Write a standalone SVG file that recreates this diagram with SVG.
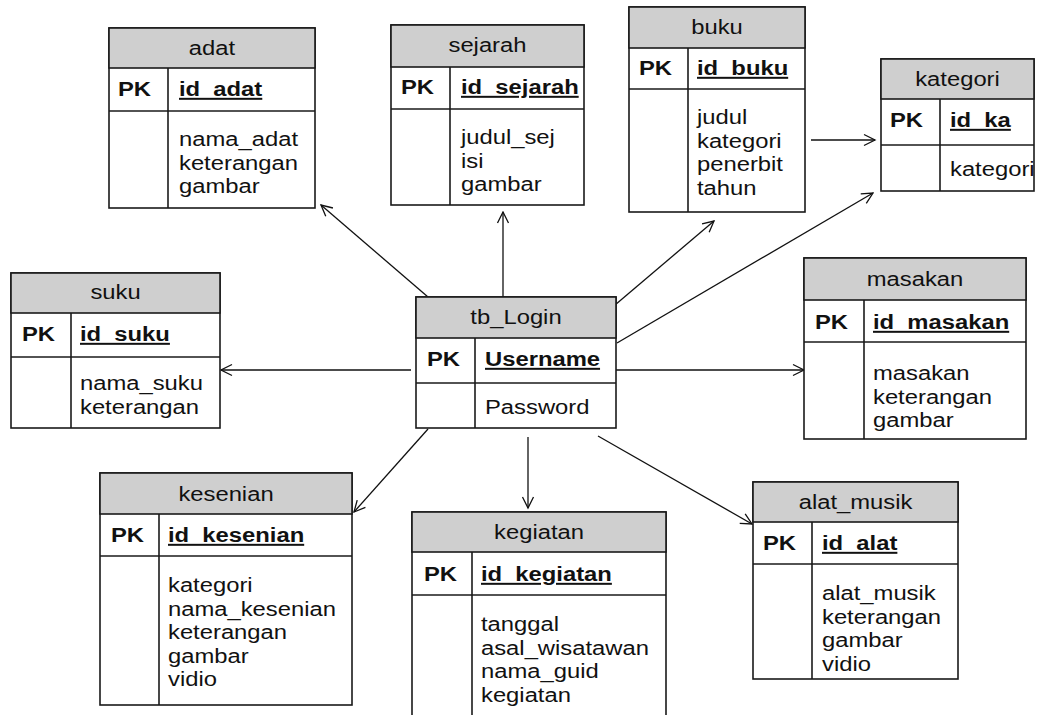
<svg xmlns="http://www.w3.org/2000/svg" width="1048" height="715" viewBox="0 0 1048 715">
<style>
.bg{fill:#ffffff}
.hd{fill:#cfcfcf;stroke:#1a1a1a;stroke-width:1.6}
.bd{fill:#ffffff;stroke:#1a1a1a;stroke-width:1.6}
.ln{stroke:#1a1a1a;stroke-width:1.6;fill:none}
text{font-family:"Liberation Sans",Arial,sans-serif;font-size:20px;fill:#111}
.t{text-anchor:middle}
.pk{font-weight:bold}
.key{font-weight:bold;text-decoration:underline}
.cn{stroke:#111;stroke-width:1.3;fill:none;marker-end:url(#arr)}
</style>
<defs>
<marker id="arr" markerUnits="userSpaceOnUse" markerWidth="14" markerHeight="14" viewBox="-1 -7 13 14" refX="11" refY="0" orient="auto">
<path d="M0,-5.5 L11,0 L0,5.5" fill="none" stroke="#111" stroke-width="1.3"/>
</marker>
</defs>
<rect class="bg" x="0" y="0" width="1048" height="715"/>

<g id="connectors">
<line class="cn" x1="428" y1="297" x2="321" y2="205"/>
<line class="cn" x1="503" y1="297" x2="503" y2="212"/>
<line class="cn" x1="615" y1="305" x2="714" y2="221"/>
<line class="cn" x1="617" y1="343" x2="873" y2="193"/>
<line class="cn" x1="811" y1="140" x2="875" y2="140"/>
<line class="cn" x1="411" y1="370" x2="221" y2="370"/>
<line class="cn" x1="616" y1="370" x2="804" y2="370"/>
<line class="cn" x1="428" y1="429" x2="354" y2="512"/>
<line class="cn" x1="528" y1="437" x2="528" y2="508"/>
<line class="cn" x1="598" y1="436" x2="752" y2="524"/>
</g>

<g id="adat">
<rect class="bd" x="109" y="28" width="206" height="180"/>
<rect class="hd" x="109" y="28" width="206" height="40"/>
<line class="ln" x1="109" y1="111" x2="315" y2="111"/>
<line class="ln" x1="168" y1="68" x2="168" y2="208"/>
<text class="t" transform="translate(212,55) scale(1.19,1)">adat</text>
<text class="pk" transform="translate(118,96) scale(1.19,1)">PK</text>
<text class="key" transform="translate(179,96) scale(1.19,1)">id_adat</text>
<text transform="translate(179,146) scale(1.19,1)">nama_adat</text>
<text transform="translate(179,169.5) scale(1.19,1)">keterangan</text>
<text transform="translate(179,193) scale(1.19,1)">gambar</text>
</g>

<g id="sejarah">
<rect class="bd" x="391" y="25" width="193" height="180"/>
<rect class="hd" x="391" y="25" width="193" height="42"/>
<line class="ln" x1="391" y1="109" x2="584" y2="109"/>
<line class="ln" x1="450" y1="67" x2="450" y2="205"/>
<text class="t" transform="translate(487.5,52) scale(1.19,1)">sejarah</text>
<text class="pk" transform="translate(401,94) scale(1.19,1)">PK</text>
<text class="key" transform="translate(461,94) scale(1.19,1)">id_sejarah</text>
<text transform="translate(461,144) scale(1.19,1)">judul_sej</text>
<text transform="translate(461,167.5) scale(1.19,1)">isi</text>
<text transform="translate(461,191) scale(1.19,1)">gambar</text>
</g>

<g id="buku">
<rect class="bd" x="629" y="7" width="176" height="205"/>
<rect class="hd" x="629" y="7" width="176" height="41"/>
<line class="ln" x1="629" y1="89" x2="805" y2="89"/>
<line class="ln" x1="688" y1="48" x2="688" y2="212"/>
<text class="t" transform="translate(717,34) scale(1.19,1)">buku</text>
<text class="pk" transform="translate(639,75) scale(1.19,1)">PK</text>
<text class="key" transform="translate(697,75) scale(1.19,1)">id_buku</text>
<text transform="translate(697,124) scale(1.19,1)">judul</text>
<text transform="translate(697,147.5) scale(1.19,1)">kategori</text>
<text transform="translate(697,171) scale(1.19,1)">penerbit</text>
<text transform="translate(697,194.5) scale(1.19,1)">tahun</text>
</g>

<g id="kategori">
<rect class="bd" x="881" y="59" width="153" height="132"/>
<rect class="hd" x="881" y="59" width="153" height="40"/>
<line class="ln" x1="881" y1="145" x2="1034" y2="145"/>
<line class="ln" x1="940" y1="99" x2="940" y2="191"/>
<text class="t" transform="translate(957.5,86) scale(1.19,1)">kategori</text>
<text class="pk" transform="translate(890,127) scale(1.19,1)">PK</text>
<text class="key" transform="translate(950,127) scale(1.19,1)">id_ka</text>
<text transform="translate(950,176) scale(1.19,1)">kategori</text>
</g>

<g id="suku">
<rect class="bd" x="11" y="273" width="209" height="155"/>
<rect class="hd" x="11" y="273" width="209" height="40"/>
<line class="ln" x1="11" y1="357" x2="220" y2="357"/>
<line class="ln" x1="71" y1="313" x2="71" y2="428"/>
<text class="t" transform="translate(115.5,299) scale(1.19,1)">suku</text>
<text class="pk" transform="translate(22,341) scale(1.19,1)">PK</text>
<text class="key" transform="translate(80,341) scale(1.19,1)">id_suku</text>
<text transform="translate(80,390) scale(1.19,1)">nama_suku</text>
<text transform="translate(80,413.5) scale(1.19,1)">keterangan</text>
</g>

<g id="tb_Login">
<rect class="bd" x="416" y="297" width="200" height="131"/>
<rect class="hd" x="416" y="297" width="200" height="41"/>
<line class="ln" x1="416" y1="383" x2="616" y2="383"/>
<line class="ln" x1="475" y1="338" x2="475" y2="428"/>
<text class="t" transform="translate(516,324) scale(1.19,1)">tb_Login</text>
<text class="pk" transform="translate(427,366) scale(1.19,1)">PK</text>
<text class="key" transform="translate(485,366) scale(1.19,1)">Username</text>
<text transform="translate(485,414) scale(1.19,1)">Password</text>
</g>

<g id="masakan">
<rect class="bd" x="804" y="258" width="222" height="181"/>
<rect class="hd" x="804" y="258" width="222" height="42"/>
<line class="ln" x1="804" y1="342" x2="1026" y2="342"/>
<line class="ln" x1="864" y1="300" x2="864" y2="439"/>
<text class="t" transform="translate(915,286) scale(1.19,1)">masakan</text>
<text class="pk" transform="translate(815,329) scale(1.19,1)">PK</text>
<text class="key" transform="translate(873,329) scale(1.19,1)">id_masakan</text>
<text transform="translate(873,380) scale(1.19,1)">masakan</text>
<text transform="translate(873,403.5) scale(1.19,1)">keterangan</text>
<text transform="translate(873,427) scale(1.19,1)">gambar</text>
</g>

<g id="kesenian">
<rect class="bd" x="100" y="473" width="252" height="232"/>
<rect class="hd" x="100" y="473" width="252" height="41"/>
<line class="ln" x1="100" y1="556" x2="352" y2="556"/>
<line class="ln" x1="159" y1="514" x2="159" y2="705"/>
<text class="t" transform="translate(226,501) scale(1.19,1)">kesenian</text>
<text class="pk" transform="translate(111,542) scale(1.19,1)">PK</text>
<text class="key" transform="translate(168,542) scale(1.19,1)">id_kesenian</text>
<text transform="translate(168,592) scale(1.19,1)">kategori</text>
<text transform="translate(168,615.5) scale(1.19,1)">nama_kesenian</text>
<text transform="translate(168,639) scale(1.19,1)">keterangan</text>
<text transform="translate(168,662.5) scale(1.19,1)">gambar</text>
<text transform="translate(168,686) scale(1.19,1)">vidio</text>
</g>

<g id="kegiatan">
<path class="bd" d="M412,720 L412,512 L666,512 L666,720"/>
<rect class="hd" x="412" y="512" width="254" height="40"/>
<line class="ln" x1="412" y1="595" x2="666" y2="595"/>
<line class="ln" x1="472" y1="552" x2="472" y2="720"/>
<text class="t" transform="translate(539,539) scale(1.19,1)">kegiatan</text>
<text class="pk" transform="translate(424,581) scale(1.19,1)">PK</text>
<text class="key" transform="translate(481,581) scale(1.19,1)">id_kegiatan</text>
<text transform="translate(481,631) scale(1.19,1)">tanggal</text>
<text transform="translate(481,654.5) scale(1.19,1)">asal_wisatawan</text>
<text transform="translate(481,678) scale(1.19,1)">nama_guid</text>
<text transform="translate(481,701.5) scale(1.19,1)">kegiatan</text>
</g>

<g id="alat_musik">
<rect class="bd" x="753" y="482" width="205" height="197"/>
<rect class="hd" x="753" y="482" width="205" height="40"/>
<line class="ln" x1="753" y1="564" x2="958" y2="564"/>
<line class="ln" x1="812" y1="522" x2="812" y2="679"/>
<text class="t" transform="translate(855.5,509) scale(1.19,1)">alat_musik</text>
<text class="pk" transform="translate(763,550) scale(1.19,1)">PK</text>
<text class="key" transform="translate(822,550) scale(1.19,1)">id_alat</text>
<text transform="translate(822,600) scale(1.19,1)">alat_musik</text>
<text transform="translate(822,623.5) scale(1.19,1)">keterangan</text>
<text transform="translate(822,647) scale(1.19,1)">gambar</text>
<text transform="translate(822,670.5) scale(1.19,1)">vidio</text>
</g>
</svg>
